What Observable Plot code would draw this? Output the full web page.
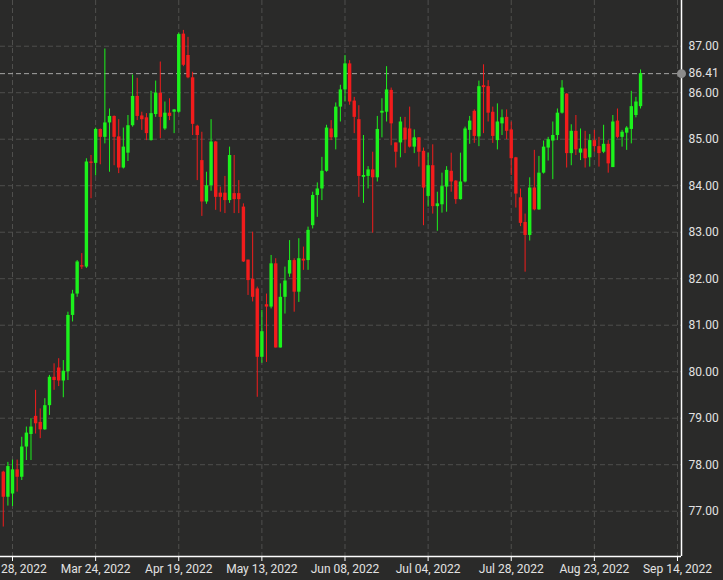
<!DOCTYPE html>
<html>
<head>
<meta charset="utf-8">
<script src="https://cdn.jsdelivr.net/npm/d3@7"></script>
<script src="https://cdn.jsdelivr.net/npm/@observablehq/plot@0.6"></script>
<style>
  html, body { margin: 0; padding: 0; background: #2a2a29; overflow: hidden; }
  #chart svg { display: block; }
</style>
</head>
<body>
<div id="chart"></div>
<script>
// trading-day index (0 = Feb 28, 2022)
const firstDay = -2;
const open = [77.84,77.30,77.37,77.89,77.73,78.38,78.65,79.04,78.91,78.75,79.27,79.88,80.08,79.80,80.00,81.21,81.67,82.28,82.25,84.51,84.48,85.21,85.04,85.35,85.49,85.05,84.38,84.70,85.29,85.92,85.50,85.46,84.97,85.53,85.99,85.22,85.56,85.58,85.58,87.26,86.80,86.32,85.28,84.54,83.65,84.00,84.94,83.84,83.84,83.68,83.83,83.83,83.54,82.40,81.99,81.78,80.31,81.44,81.39,82.32,80.51,81.60,82.10,82.39,81.71,82.42,82.39,83.14,83.79,83.93,84.31,85.22,85.03,85.69,86.06,86.62,85.82,85.42,84.18,84.20,84.34,84.17,85.56,85.58,86.05,84.92,84.92,85.24,85.22,84.83,85.03,84.74,83.77,84.43,83.55,83.59,83.97,84.31,84.10,83.70,84.08,85.19,85.60,85.05,86.15,86.13,85.58,84.97,85.33,85.47,85.20,84.60,83.74,83.21,82.93,83.95,83.48,84.27,84.81,84.96,85.08,85.56,85.97,84.69,85.17,84.70,84.79,84.60,84.97,84.84,84.72,84.89,84.39,85.39,85.04,85.13,85.21,85.51,85.70];
const high = [77.86,78.05,78.10,78.10,78.59,78.81,78.99,79.60,79.20,79.42,79.92,80.17,80.28,80.24,81.28,81.75,82.39,82.54,84.58,84.65,85.24,85.22,86.94,85.65,85.50,85.42,85.24,85.51,86.38,86.31,85.58,85.55,86.03,86.25,86.66,85.80,85.87,85.64,87.28,87.34,87.19,86.44,85.30,85.15,84.29,85.42,84.95,83.97,84.20,84.83,84.65,84.11,83.61,82.40,83.00,81.82,81.32,81.67,82.50,82.43,81.89,82.25,82.82,82.43,82.86,82.68,83.11,83.86,84.06,84.61,85.30,85.40,85.78,86.16,86.80,86.69,85.90,85.72,85.08,84.41,84.72,85.49,85.87,86.56,86.10,84.92,85.47,85.47,85.69,85.20,85.03,84.81,84.70,84.88,83.86,84.27,84.41,84.70,84.11,84.70,85.26,85.49,85.63,86.25,86.60,86.26,85.69,85.76,85.63,85.63,85.37,84.61,83.93,83.39,84.17,84.76,84.63,84.96,85.04,85.37,85.65,86.26,85.98,85.31,85.51,85.22,85.17,85.10,85.19,85.04,85.30,84.97,85.51,85.65,85.19,85.27,86.03,85.90,86.49];
const low = [76.66,77.11,77.10,77.41,77.66,78.09,78.09,78.66,78.56,78.74,79.06,79.60,79.68,79.44,79.81,81.07,81.60,82.20,82.22,83.72,84.21,84.45,84.90,84.29,84.43,84.26,84.36,84.52,85.26,85.40,85.19,84.97,84.96,85.47,85.01,85.19,85.40,85.12,85.56,86.56,86.30,85.08,84.11,83.34,83.60,83.88,83.47,83.43,83.40,83.62,83.40,83.40,82.35,81.64,81.50,79.45,80.18,80.20,81.35,80.51,80.51,81.24,82.03,81.28,81.49,82.18,82.18,83.07,83.32,83.68,84.29,84.97,84.77,85.37,85.80,85.73,85.12,83.75,83.62,83.93,82.98,84.08,85.03,85.37,84.86,84.38,84.60,84.69,84.81,84.69,84.40,83.14,83.54,83.39,83.02,83.41,83.43,83.86,83.60,83.69,84.06,84.89,84.91,84.84,85.12,85.37,84.91,84.77,85.08,84.99,84.22,83.52,83.12,82.14,82.81,83.46,83.47,84.25,84.53,84.13,84.97,85.54,84.38,84.43,84.65,84.54,84.38,84.40,84.72,84.40,84.69,84.27,84.39,85.01,84.83,84.76,84.90,85.46,85.65];
const close = [77.30,77.96,77.89,77.73,78.38,78.68,78.81,78.88,78.75,79.27,79.88,79.81,79.80,80.01,81.21,81.67,82.36,82.25,84.51,84.48,85.21,85.04,85.35,85.49,85.04,84.38,84.83,85.29,85.92,85.49,85.42,85.12,85.55,85.99,85.47,85.56,85.49,85.63,87.25,86.59,86.32,85.32,85.08,83.65,84.00,84.94,83.75,83.75,83.68,84.65,83.70,83.70,82.36,81.96,81.60,80.31,80.86,81.39,82.32,80.51,81.60,81.95,82.39,81.71,82.43,82.38,83.04,83.79,83.93,84.31,85.24,85.03,85.69,86.06,86.62,85.80,85.47,84.20,84.22,84.34,84.17,85.21,85.60,86.06,85.33,84.72,85.37,84.98,84.83,85.03,84.72,83.95,84.43,83.55,83.61,83.98,84.33,84.08,83.70,84.08,85.22,85.39,85.06,86.13,86.11,85.56,85.06,85.37,85.46,85.17,84.58,83.82,83.19,82.93,83.95,83.48,84.27,84.83,84.99,85.08,85.56,86.10,84.69,85.17,84.77,84.79,84.58,84.97,84.84,84.69,84.89,84.47,85.37,85.04,85.15,85.24,85.70,85.80,86.41];

const tickDays = [0, 18, 36, 54, 72, 90, 108, 126, 144];
const tickLabels = ["Feb 28, 2022","Mar 24, 2022","Apr 19, 2022","May 13, 2022","Jun 08, 2022","Jul 04, 2022","Jul 28, 2022","Aug 23, 2022","Sep 14, 2022"];
const priceTicks = [77, 78, 79, 80, 81, 82, 83, 84, 85, 86, 87];
const lastPrice = 86.41;

const green = "#1cf21c", red = "#f21c1c";
const candles = open.map((o, k) => {
  const c = close[k];
  let hi = Math.max(o, c), lo = Math.min(o, c);
  if (hi - lo < 0.025) { const m = (hi + lo) / 2; hi = m + 0.0125; lo = m - 0.0125; }
  return {day: firstDay + k, open: o, high: high[k], low: low[k], close: c, bodyHi: hi, bodyLo: lo, color: c >= o ? green : red};
});

const xDomain = [-2.602, 144.87];
const yDomain = [76.026, 87.983];
const grid = "#4f4f4d";

const chart = Plot.plot({
  width: 723,
  height: 580,
  marginTop: 0,
  marginRight: 42,
  marginBottom: 24,
  marginLeft: 0,
  style: {background: "#2a2a29", color: "#e2e2e2", fontFamily: "Roboto, 'Noto Sans', sans-serif", fontSize: "12px", overflow: "visible"},
  x: {type: "linear", domain: xDomain, axis: null, label: null},
  y: {domain: yDomain, axis: null, label: null},
  marks: [
    Plot.ruleY(priceTicks, {stroke: grid, strokeDasharray: "5,3"}),
    Plot.ruleX(tickDays, {stroke: grid, strokeDasharray: "5,3"}),
    Plot.ruleY([lastPrice], {stroke: "#a5a5a5", strokeDasharray: "5,3"}),
    Plot.ruleX(candles, {x: "day", y1: "low", y2: "high", stroke: "color", strokeWidth: 1}),
    Plot.ruleX(candles, {x: "day", y1: "bodyLo", y2: "bodyHi", stroke: "color", strokeWidth: 3.4}),
    Plot.ruleY([yDomain[0]], {stroke: "#ffffff", strokeWidth: 1.5}),
    Plot.ruleX([xDomain[1]], {stroke: "#ffffff", strokeWidth: 1.5}),
    Plot.axisX(tickDays, {anchor: "bottom", tickSize: 5, tickPadding: 3, stroke: "#ffffff", label: null,
      tickFormat: d => tickLabels[tickDays.indexOf(d)], fill: "#e2e2e2"}),
    Plot.axisY(priceTicks, {anchor: "right", tickSize: 0, tickPadding: 7, label: null, tickFormat: d3.format(".2f"), fill: "#e2e2e2"}),
    Plot.dot([lastPrice], {x: () => xDomain[1], y: d => d, r: 4.5, fill: "#8c8c8c", stroke: "none"}),
    Plot.text([lastPrice], {x: () => xDomain[1], y: d => d, text: d => d.toFixed(2), dx: 7, textAnchor: "start", fill: "#e2e2e2"})
  ]
});
document.getElementById("chart").appendChild(chart);
</script>
</body>
</html>
